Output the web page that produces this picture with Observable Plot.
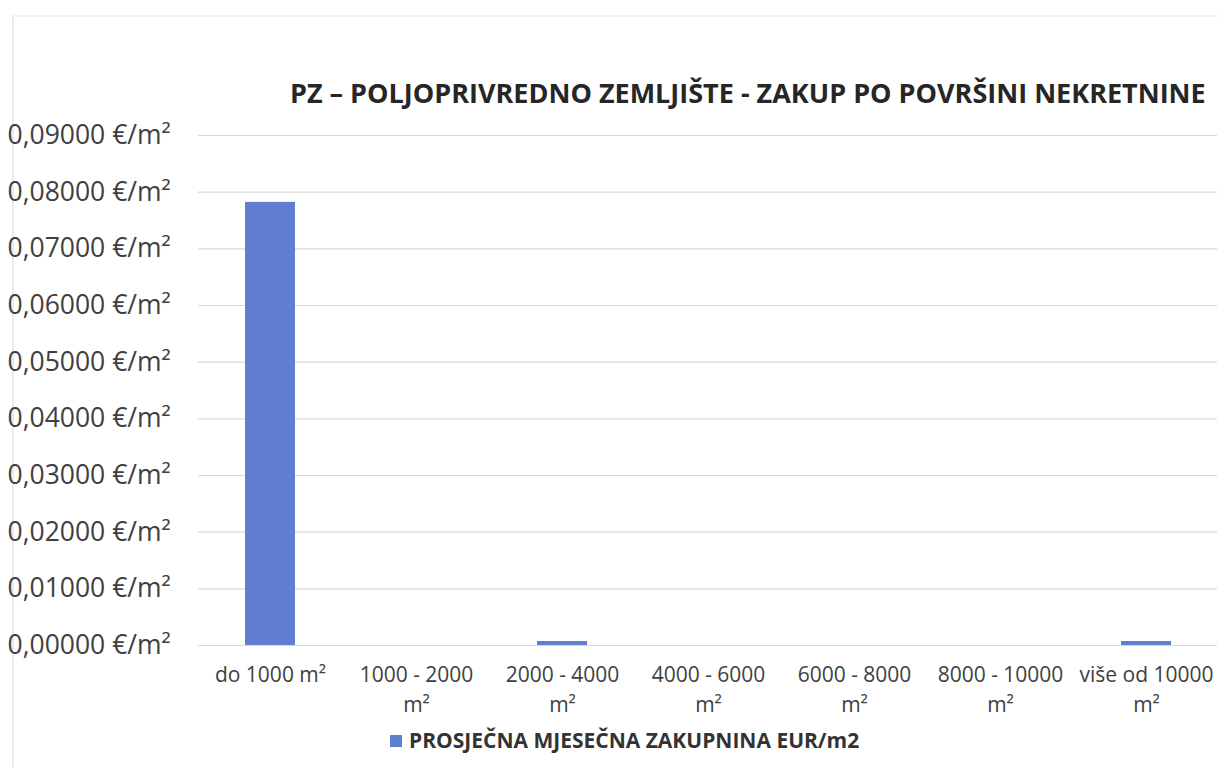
<!DOCTYPE html>
<html><head><meta charset="utf-8">
<script src="https://cdn.jsdelivr.net/npm/d3@7"></script>
<script src="https://cdn.jsdelivr.net/npm/@observablehq/plot@0.6"></script>
<style>
body{margin:0;background:#fff;font-family:"Open Sans",sans-serif;}
#wrap{position:relative;width:1217px;height:767px;overflow:hidden;}
#frame{position:absolute;left:12px;top:15px;width:1300px;height:800px;border-left:2px solid #ececec;border-top:2px solid #f2f2f2;}
#title{position:absolute;top:74px;left:290px;width:925px;font-weight:700;font-size:27px;line-height:37px;color:#262626;white-space:nowrap;z-index:1;}
#chart{position:absolute;top:100px;left:0;}
#legend{position:absolute;top:726px;left:390px;font-weight:700;font-size:21px;line-height:29px;color:#333;white-space:nowrap;display:flex;align-items:center;}
#legend span.sw{display:inline-block;width:12px;height:12px;background:#5f7ecf;margin-right:7px;}
</style></head>
<body><div id="wrap"><div id="frame"></div>
<div id="chart"></div>
<div id="title">PZ – POLJOPRIVREDNO ZEMLJIŠTE - ZAKUP PO POVRŠINI NEKRETNINE</div>
<div id="legend"><span class="sw"></span>PROSJEČNA MJESEČNA ZAKUPNINA EUR/m2</div>
</div>
<script>
const categories = ["do 1000 m²", "1000 - 2000\nm²", "2000 - 4000\nm²", "4000 - 6000\nm²", "6000 - 8000\nm²", "8000 - 10000\nm²", "više od 10000\nm²"];
const values = [0.0782, 0, 0.0007, 0, 0, 0, 0.0007];
const yTicks = [0, 0.01, 0.02, 0.03, 0.04, 0.05, 0.06, 0.07, 0.08, 0.09];
const data = categories.map((c, i) => ({cat: c, value: values[i]}));
const fmt = v => d3.format(".5f")(v).replace(".", ",") + " €/m²";
const plot = Plot.plot({
  width: 1217, height: 625,
  marginLeft: 198, marginRight: 0, marginTop: 35, marginBottom: 80,
  style: {fontFamily: "'Open Sans', sans-serif", color: "#404040", background: "transparent"},
  x: {domain: categories, paddingInner: 0.66, paddingOuter: 0.3, label: null},
  y: {domain: [0, 0.09], label: null},
  marks: [
    Plot.gridY(yTicks, {stroke: "#d9d9d9", strokeOpacity: 1, strokeWidth: 1.2}),
    Plot.barY(data, {x: "cat", y: "value", fill: "#5f7ecf"}),
    Plot.axisY(yTicks, {tickSize: 0, tickFormat: fmt, textAnchor: "start", dx: -182, fontSize: 26.5, fill: "#404040"}),
    Plot.axisX({tickSize: 0, fontSize: 21, fill: "#404040", dy: 6, lineHeight: 1.43})
  ]
});
document.getElementById("chart").appendChild(plot);
</script></body></html>
